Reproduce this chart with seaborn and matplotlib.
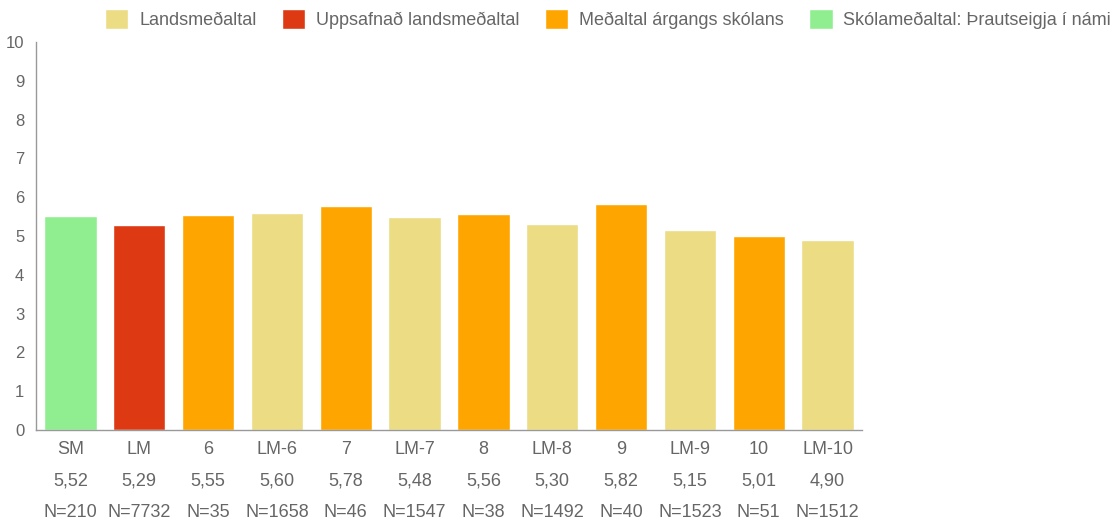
import pandas as pd
import matplotlib.pyplot as plt
import seaborn as sns

# Data
categories = ["SM", "LM", "6", "LM-6", "7", "LM-7", "8", "LM-8", "9", "LM-9", "10", "LM-10"]
values = [5.52, 5.29, 5.55, 5.60, 5.78, 5.48, 5.56, 5.30, 5.82, 5.15, 5.01, 4.90]
counts = [210, 7732, 35, 1658, 46, 1547, 38, 1492, 40, 1523, 51, 1512]
series = ["Skólameðaltal: Þrautseigja í námi", "Uppsafnað landsmeðaltal",
          "Meðaltal árgangs skólans", "Landsmeðaltal",
          "Meðaltal árgangs skólans", "Landsmeðaltal",
          "Meðaltal árgangs skólans", "Landsmeðaltal",
          "Meðaltal árgangs skólans", "Landsmeðaltal",
          "Meðaltal árgangs skólans", "Landsmeðaltal"]
legend_order = ["Landsmeðaltal", "Uppsafnað landsmeðaltal",
                "Meðaltal árgangs skólans", "Skólameðaltal: Þrautseigja í námi"]
colors = {"Landsmeðaltal": "#ECDC84",
          "Uppsafnað landsmeðaltal": "#DD3A14",
          "Meðaltal árgangs skólans": "#FFA500",
          "Skólameðaltal: Þrautseigja í námi": "#90EE90"}

df = pd.DataFrame({"cat": categories, "value": values, "n": counts, "series": series})

sns.set_style("white")
plt.rcParams['font.family'] = ['Liberation Sans', 'DejaVu Sans']
grey = "#666666"

fig = plt.figure(figsize=(11.15, 5.23), dpi=100)
ax = fig.add_axes([36 / 1115, 1 - 430 / 523, 826 / 1115, 388 / 523])

sns.barplot(data=df, x="cat", y="value", hue="series", hue_order=legend_order,
            palette=colors, dodge=False, width=0.76, saturation=1, ax=ax, legend=True)

ax.set_ylim(0, 10)
ax.set_xlim(-0.5, len(categories) - 0.5)
ax.set_yticks(range(0, 11))
ax.set_xlabel("")
ax.set_ylabel("")

# Tick labels: category, value (comma decimal) and N on three lines
labels = [f"{c}\n{v:.2f}".replace(".", ",") + f"\nN={n}" for c, v, n in zip(categories, values, counts)]
ax.set_xticks(range(len(categories)))
ax.set_xticklabels(labels, linespacing=2.12)

for side in ["top", "right"]:
    ax.spines[side].set_visible(False)
for side in ["left", "bottom"]:
    ax.spines[side].set_color("#999999")
    ax.spines[side].set_linewidth(1)
ax.tick_params(axis="both", colors="#999999", labelcolor=grey, labelsize=13,
               length=5, width=1, direction="out")
ax.tick_params(axis="y", labelsize=12)
ax.tick_params(axis="x", pad=3)

# Legend across the top
handles, lbls = ax.get_legend_handles_labels()
ax.legend(handles, lbls, loc="center", bbox_to_anchor=(608 / 1115, 1 - 19 / 523),
          bbox_transform=fig.transFigure, ncol=4, frameon=False, fontsize=13,
          handlelength=1.3, handleheight=1.3, handletextpad=0.6, columnspacing=1.4,
          labelcolor=grey)

fig.savefig("out.png", dpi=100)
